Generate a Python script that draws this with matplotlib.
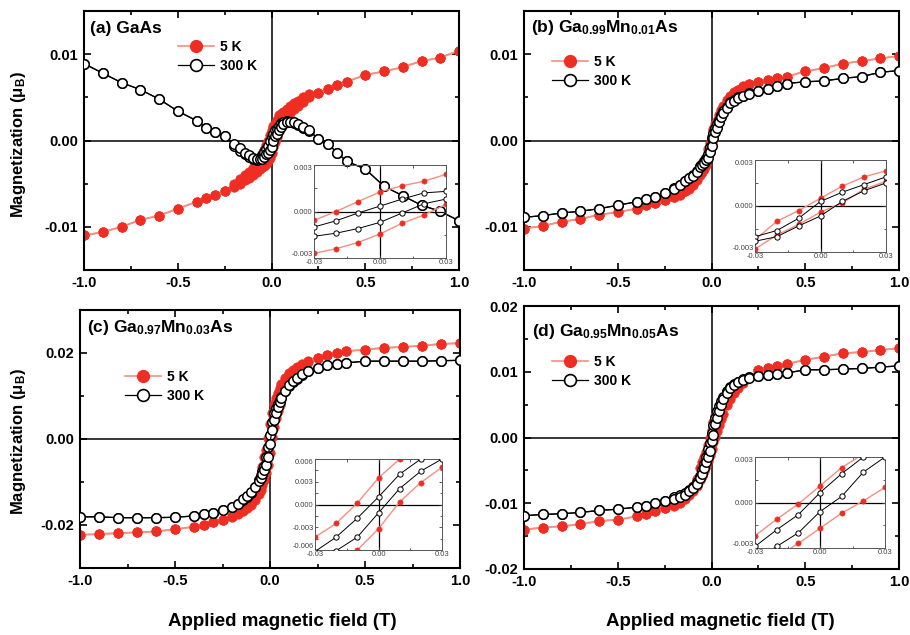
import numpy as np
import matplotlib
matplotlib.use('Agg')
import matplotlib.pyplot as plt
from matplotlib.ticker import MultipleLocator, FixedLocator, FormatStrFormatter
from matplotlib.lines import Line2D

plt.rcParams['font.family'] = ['Liberation Sans', 'DejaVu Sans']
plt.rcParams['mathtext.fontset'] = 'custom'
plt.rcParams['mathtext.rm'] = 'Liberation Sans:bold'
plt.rcParams['mathtext.it'] = 'Liberation Sans:bold'
plt.rcParams['mathtext.bf'] = 'Liberation Sans:bold'
plt.rcParams['axes.unicode_minus'] = False

# ---------------- data (magnetization in 1e-3 mu_B) ----------------
H_neg = [-1.0, -0.9, -0.8, -0.7, -0.6, -0.5, -0.4, -0.35, -0.3, -0.25]
H_near = [-0.2, -0.17, -0.14, -0.12, -0.1, -0.08, -0.06, -0.05, -0.04, -0.03, -0.02, -0.01, 0.0,
          0.01, 0.02, 0.03, 0.04, 0.05, 0.06, 0.08, 0.1, 0.12, 0.14, 0.17, 0.2]
H_pos = [0.25, 0.3, 0.35, 0.4, 0.5, 0.6, 0.7, 0.8, 0.9, 1.0]

# (a) GaAs
a5_neg = [-11.0, -10.6, -10.0, -9.2, -8.7, -7.9, -7.1, -6.7, -6.3, -5.8]
a5_up = [-5.4, -5.0, -4.6, -4.3, -4.0, -3.6, -3.3, -3.1, -2.9, -2.7, -2.4, -2.0, -1.45,
         -0.76, -0.23, 0.46, 1.1, 1.6, 2.0, 2.7, 3.2, 3.6, 4.0, 4.5, 5.0]
a5_dn = [-5.0, -4.5, -4.0, -3.6, -3.2, -2.7, -2.0, -1.6, -1.1, -0.57, 0.0, 0.64, 1.26,
         1.66, 1.95, 2.4, 2.9, 3.1, 3.3, 3.6, 4.0, 4.3, 4.6, 5.0, 5.4]
a5_pos = [5.5, 6.0, 6.4, 6.8, 7.6, 8.0, 8.5, 9.2, 9.6, 10.4]
a300_neg = [8.9, 7.8, 6.7, 5.9, 4.8, 3.4, 2.3, 1.5, 1.0, 0.5]
a300_up = [-0.4, -0.9, -1.4, -1.7, -2.0, -2.2, -2.2, -2.1, -1.9, -1.6, -1.4, -1.1, -0.7,
           -0.1, 0.5, 0.8, 1.2, 1.6, 1.9, 2.2, 2.2, 2.1, 1.9, 1.6, 1.2]
a300_dn = [-0.6, -1.2, -1.6, -1.9, -2.1, -2.3, -2.0, -1.7, -1.3, -1.0, -0.6, -0.1, 0.35,
           0.8, 1.2, 1.3, 1.7, 2.0, 2.2, 2.3, 2.2, 2.0, 1.8, 1.5, 1.1]
a300_pos = [0.2, -0.4, -1.4, -2.4, -3.3, -5.3, -6.4, -7.5, -8.2, -9.3]

# (b) Ga0.99Mn0.01As
b5_neg = [-10.2, -9.9, -9.4, -9.1, -8.6, -8.3, -7.9, -7.5, -7.2, -6.9]
b5_up = [-6.6, -6.3, -5.9, -5.6, -5.2, -4.6, -4.0, -3.6, -3.3, -2.8, -1.9, -1.2, -0.4,
         0.2, 1.1, 1.6, 2.3, 3.0, 3.6, 4.4, 5.0, 5.5, 5.9, 6.2, 6.5]
b5_dn = [-6.5, -6.2, -5.8, -5.4, -4.9, -4.3, -3.5, -3.1, -2.7, -2.2, -1.0, -0.3, 0.5,
         1.3, 1.9, 2.3, 3.0, 3.5, 4.0, 4.7, 5.2, 5.6, 5.9, 6.3, 6.6]
b5_pos = [6.8, 7.0, 7.2, 7.4, 8.0, 8.4, 8.9, 9.2, 9.5, 9.8]
b300_neg = [-8.9, -8.7, -8.4, -8.2, -7.9, -7.5, -7.1, -6.8, -6.5, -6.1]
b300_up = [-5.6, -5.2, -4.7, -4.4, -4.1, -3.6, -3.1, -2.8, -2.6, -2.3, -2.0, -1.3, -0.65,
           0.3, 1.0, 1.5, 2.1, 2.7, 3.2, 3.8, 4.3, 4.6, 4.9, 5.2, 5.4]
b300_dn = [-5.5, -5.1, -4.7, -4.4, -4.0, -3.5, -3.0, -2.7, -2.4, -2.0, -1.6, -0.8, 0.3,
           0.9, 1.4, 1.9, 2.4, 2.9, 3.4, 3.9, 4.5, 4.7, 5.0, 5.2, 5.5]
b300_pos = [5.7, 6.0, 6.3, 6.6, 6.8, 6.9, 7.2, 7.4, 7.9, 8.1]

# (c) Ga0.97Mn0.03As
c5_neg = [-22.3, -22.1, -21.9, -21.7, -21.5, -21.0, -20.4, -20.0, -19.3, -18.8]
c5_up = [-18.1, -17.5, -16.7, -16.1, -15.4, -14.2, -12.8, -11.9, -10.8, -9.5, -8.0, -6.0, -3.2,
         0.35, 2.9, 4.9, 6.6, 8.0, 9.2, 11.2, 13.0, 14.5, 15.7, 17.0, 18.0]
c5_dn = [-18.0, -17.0, -15.7, -14.5, -13.0, -11.2, -9.2, -8.2, -6.5, -4.3, -2.5, 0.2, 3.5,
         6.0, 8.2, 9.6, 10.8, 11.9, 12.8, 14.2, 15.4, 16.1, 16.7, 17.5, 18.1]
c5_pos = [18.8, 19.5, 20.1, 20.4, 20.8, 21.2, 21.4, 21.7, 22.1, 22.3]
c300_neg = [-18.1, -18.1, -18.3, -18.3, -18.3, -18.2, -17.9, -17.5, -17.2, -16.5]
c300_up = [-15.8, -15.0, -14.0, -13.2, -12.3, -11.2, -9.8, -9.0, -8.1, -7.2, -6.1, -4.3, -1.1,
           2.1, 4.4, 6.0, 7.4, 8.6, 9.6, 11.2, 12.5, 13.5, 14.3, 15.2, 15.8]
c300_dn = [-15.8, -15.2, -14.3, -13.5, -12.5, -11.2, -9.6, -8.6, -7.5, -6.2, -4.3, -1.8, 1.0,
           4.0, 6.0, 7.3, 8.2, 9.0, 9.8, 11.2, 12.3, 13.2, 14.0, 15.0, 15.8]
c300_pos = [16.5, 17.1, 17.5, 17.7, 18.1, 18.1, 18.1, 18.1, 18.2, 18.3]

# (d) Ga0.95Mn0.05As
d5_neg = [-14.0, -13.7, -13.5, -13.2, -12.7, -12.5, -12.0, -11.6, -11.2, -10.7]
d5_up = [-10.4, -9.9, -9.3, -8.8, -8.2, -7.4, -6.4, -5.8, -5.1, -4.4, -3.6, -2.7, -1.7,
         -0.7, 0.1, 1.0, 1.9, 2.8, 3.6, 4.9, 5.9, 6.8, 7.5, 8.3, 9.0]
d5_dn = [-10.1, -9.5, -8.8, -8.2, -7.4, -6.3, -4.6, -3.8, -3.0, -2.2, -1.1, -0.1, 1.1,
         2.3, 3.2, 3.9, 4.5, 5.0, 5.5, 6.3, 7.0, 7.6, 8.1, 8.7, 9.2]
d5_pos = [10.3, 10.5, 10.9, 11.2, 11.8, 12.3, 12.8, 13.0, 13.3, 13.6]
d300_neg = [-11.9, -11.7, -11.6, -11.4, -11.1, -10.9, -10.6, -10.4, -10.0, -9.7]
d300_up = [-9.4, -9.1, -8.7, -8.2, -7.7, -7.0, -6.1, -5.5, -4.7, -3.8, -2.9, -2.0, -0.6,
           0.4, 2.0, 3.0, 4.0, 5.0, 5.8, 6.8, 7.5, 8.0, 8.4, 8.8, 9.1]
d300_dn = [-9.1, -8.8, -8.4, -8.0, -7.5, -6.8, -5.8, -5.0, -4.0, -2.9, -1.8, -0.8, 0.65,
           1.9, 3.0, 4.0, 4.8, 5.6, 6.2, 7.1, 7.7, 8.2, 8.5, 8.9, 9.2]
d300_pos = [9.3, 9.5, 9.6, 9.8, 10.3, 10.3, 10.4, 10.5, 10.7, 10.9]

labels_T = ['5 K', '300 K']
panel_titles = ['(a) GaAs',
                '(b) Ga$_{0.99}$Mn$_{0.01}$As',
                '(c) Ga$_{0.97}$Mn$_{0.03}$As',
                '(d) Ga$_{0.95}$Mn$_{0.05}$As']
ylabel = 'Magnetization (μ$_{B}$)'
xlabel = 'Applied magnetic field (T)'

# ---------------- styling ----------------
RED = '#ef2d22'
RED_LINE = '#f58f80'
W, Hh = 910, 635


def rect(l, t, r, b):
    return [l / W, 1 - b / Hh, (r - l) / W, (b - t) / Hh]


fig = plt.figure(figsize=(9.1, 6.35), dpi=100)

panels = [
    dict(rect=rect(84, 11, 459, 270), inset=rect(314, 165, 446, 258),
         ylim=0.015, yt=[-0.01, 0.0, 0.01], ymin=0.005, iy=0.003, iyt=[-0.003, 0.0, 0.003],
         d5=(a5_neg, a5_up, a5_dn, a5_pos), d300=(a300_neg, a300_up, a300_dn, a300_pos),
         title=(90, 33), leg=(178, 40)),
    dict(rect=rect(524, 11, 899, 270), inset=rect(755, 160, 886, 252),
         ylim=0.015, yt=[-0.01, 0.0, 0.01], ymin=0.005, iy=0.003, iyt=[-0.003, 0.0, 0.003],
         d5=(b5_neg, b5_up, b5_dn, b5_pos), d300=(b300_neg, b300_up, b300_dn, b300_pos),
         title=(531, 32), leg=(552, 55)),
    dict(rect=rect(80, 310, 460, 568), inset=rect(315, 459, 442, 550),
         ylim=0.03, yt=[-0.02, 0.0, 0.02], ymin=0.01, iy=0.006,
         iyt=[-0.006, -0.003, 0.0, 0.003, 0.006],
         d5=(c5_neg, c5_up, c5_dn, c5_pos), d300=(c300_neg, c300_up, c300_dn, c300_pos),
         title=(87, 332), leg=(125, 370)),
    dict(rect=rect(524, 306, 899, 569), inset=rect(755, 457, 885, 548),
         ylim=0.02, yt=[-0.02, -0.01, 0.0, 0.01, 0.02], ymin=0.005, iy=0.003,
         iyt=[-0.003, 0.0, 0.003],
         d5=(d5_neg, d5_up, d5_dn, d5_pos), d300=(d300_neg, d300_up, d300_dn, d300_pos),
         title=(532, 336), leg=(552, 355)),
]


def branches(d):
    neg, up, dn, pos = d
    Hup = np.array(H_neg + H_near + H_pos)
    Mup = np.array(neg + up + pos) * 1e-3
    Mdn = np.array(neg + dn + pos) * 1e-3
    return Hup, Mup, Mdn


for i, p in enumerate(panels):
    ax = fig.add_axes(p['rect'])
    ax.axhline(0, color='black', lw=1.1, zorder=1)
    ax.axvline(0, color='black', lw=1.1, zorder=1)
    Hx, Mu, Md = branches(p['d5'])
    for M in (Md, Mu):
        ax.plot(Hx, M, '-', color=RED_LINE, lw=1.2, marker='o', ms=6.8,
                mfc=RED, mec=RED, mew=0.5, zorder=2)
    Hx, Mu, Md = branches(p['d300'])
    for M in (Md, Mu):
        ax.plot(Hx, M, '-', color='black', lw=0.9, marker='o', ms=6.8,
                mfc='white', mec='black', mew=1.1, zorder=3)
    ax.set_xlim(-1, 1)
    ax.set_ylim(-p['ylim'], p['ylim'])
    ax.xaxis.set_major_locator(FixedLocator([-1.0, -0.5, 0.0, 0.5, 1.0]))
    ax.xaxis.set_minor_locator(MultipleLocator(0.25))
    ax.yaxis.set_major_locator(FixedLocator(p['yt']))
    ax.yaxis.set_minor_locator(MultipleLocator(p['ymin']))
    ax.xaxis.set_major_formatter(FormatStrFormatter('%.1f'))
    ax.yaxis.set_major_formatter(FormatStrFormatter('%.2f'))
    ax.tick_params(which='both', direction='in', top=True, right=True, width=1.2)
    ax.tick_params(which='major', length=5, labelsize=10.5, pad=4)
    ax.tick_params(which='minor', length=3)
    for lab in ax.get_xticklabels() + ax.get_yticklabels():
        lab.set_fontweight('bold')
    for s in ax.spines.values():
        s.set_linewidth(1.5)

    # legend
    h5 = Line2D([], [], color=RED_LINE, lw=1.2, marker='o', ms=8.5, mfc=RED, mec=RED)
    h300 = Line2D([], [], color='black', lw=0.9, marker='o', ms=8.5, mfc='white',
                  mec='black', mew=1.2)
    lx, ly = p['leg']
    ax.legend([h5, h300], labels_T, loc='upper left',
              bbox_to_anchor=(lx / W, 1 - ly / Hh), bbox_transform=fig.transFigure,
              frameon=False, borderpad=0, borderaxespad=0, handlelength=2.6,
              handletextpad=0.4, labelspacing=0.35,
              prop=dict(weight='bold', size=10))

    tx, ty = p['title']
    fig.text(tx / W, 1 - ty / Hh, panel_titles[i], fontsize=12.5, fontweight='bold',
             va='baseline', ha='left')

    # inset
    ia = fig.add_axes(p['inset'])
    ia.patch.set_alpha(0)
    ia.axhline(0, color='black', lw=0.9, zorder=1)
    ia.axvline(0, color='black', lw=0.9, zorder=1)
    Hn = np.array(H_near)
    neg, up, dn, pos = p['d5']
    for M in (dn, up):
        ia.plot(Hn, np.array(M) * 1e-3, '-', color=RED_LINE, lw=1.0, marker='o', ms=3.8,
                mfc=RED, mec=RED, mew=0.4, zorder=2)
    neg, up, dn, pos = p['d300']
    for M in (dn, up):
        ia.plot(Hn, np.array(M) * 1e-3, '-', color='black', lw=0.7, marker='o', ms=3.8,
                mfc='white', mec='black', mew=0.7, zorder=3)
    ia.set_xlim(-0.03, 0.03)
    ia.set_ylim(-p['iy'], p['iy'])
    ia.xaxis.set_major_locator(FixedLocator([-0.03, 0.0, 0.03]))
    ia.xaxis.set_minor_locator(MultipleLocator(0.015))
    ia.yaxis.set_major_locator(FixedLocator(p['iyt']))
    ia.yaxis.set_minor_locator(MultipleLocator(0.0015))
    ia.xaxis.set_major_formatter(FormatStrFormatter('%.2f'))
    ia.yaxis.set_major_formatter(FormatStrFormatter('%.3f'))
    ia.tick_params(which='both', direction='in', top=True, right=True, width=0.6,
                   colors='#444444')
    ia.tick_params(which='major', length=2.5, labelsize=5.5, pad=1)
    ia.tick_params(which='minor', length=1.8)
    ylabs = ia.get_yticklabels()
    ylabs[0].set_va('bottom')
    ylabs[-1].set_va('top')
    for s in ia.spines.values():
        s.set_linewidth(0.7)
        s.set_color('#555555')

fig.text(18.5 / W, 1 - 145 / Hh, ylabel, rotation=90, fontsize=12, fontweight='bold',
         ha='center', va='center')
fig.text(18.5 / W, 1 - 442 / Hh, ylabel, rotation=90, fontsize=12, fontweight='bold',
         ha='center', va='center')
fig.text(282 / W, 1 - 622 / Hh, xlabel, fontsize=13.5, fontweight='bold',
         ha='center', va='center')
fig.text(720 / W, 1 - 622 / Hh, xlabel, fontsize=13.5, fontweight='bold',
         ha='center', va='center')

fig.savefig('out.png', dpi=100)
